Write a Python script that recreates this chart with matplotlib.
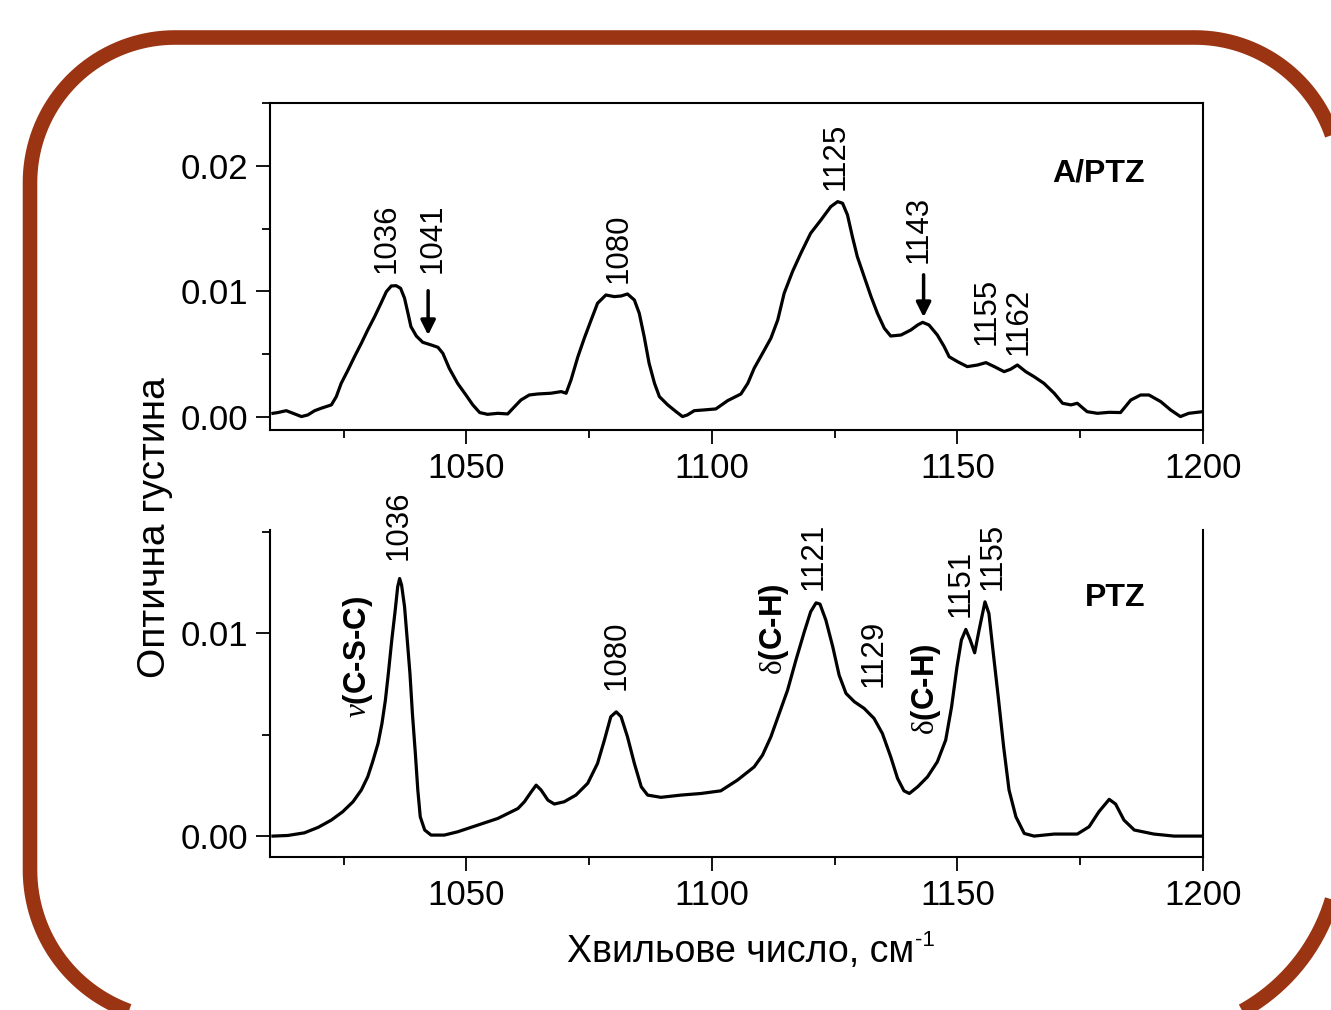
import numpy as np
import matplotlib
matplotlib.use('Agg')
import matplotlib.pyplot as plt
from matplotlib.patches import Polygon
from matplotlib.ticker import MultipleLocator, FormatStrFormatter

plt.rcParams['font.family'] = 'Liberation Sans'
plt.rcParams['mathtext.fontset'] = 'custom'
plt.rcParams['mathtext.rm'] = 'Liberation Sans'
plt.rcParams['mathtext.sf'] = 'Liberation Serif'
plt.rcParams['mathtext.it'] = 'Liberation Serif:italic'
plt.rcParams['mathtext.bf'] = 'Liberation Sans:bold'

# A/PTZ spectrum (top panel)
wn_top = [1010.6, 1011.6, 1013.3, 1014.7, 1016.4, 1017.7, 1019.1, 1020.4, 1022.5, 1023.5,
          1024.5, 1025.9, 1027.2, 1028.6, 1029.9, 1031.3, 1032.6, 1033.7, 1034.7, 1035.7,
          1036.6, 1037.4, 1038.1, 1038.7, 1039.8, 1041.1, 1042.8, 1044.2, 1045.2, 1046.5,
          1048.2, 1049.9, 1051.3, 1052.7, 1054.3, 1056.4, 1058.4, 1059.8, 1061.1, 1062.8,
          1064.5, 1067.2, 1069.3, 1070.3, 1071.3, 1072.7, 1074.0, 1075.4, 1076.7, 1078.4,
          1080.1, 1081.5, 1082.8, 1084.2, 1085.2, 1086.2, 1087.2, 1088.3, 1089.3, 1091.0,
          1092.7, 1094.0, 1095.0, 1096.4, 1098.4, 1100.8, 1103.2, 1105.9, 1107.3, 1108.6,
          1110.3, 1112.0, 1113.4, 1114.7, 1116.4, 1118.1, 1120.1, 1122.2, 1124.2, 1125.6,
          1126.6, 1127.6, 1128.6, 1129.6, 1131.0, 1132.4, 1133.7, 1135.1, 1136.4, 1138.5,
          1140.5, 1141.9, 1142.9, 1144.2, 1145.9, 1147.3, 1148.3, 1150.0, 1152.0, 1154.1,
          1155.8, 1157.5, 1159.5, 1160.8, 1162.2, 1163.9, 1165.6, 1167.6, 1169.7, 1171.4,
          1173.1, 1174.4, 1176.4, 1178.5, 1180.9, 1183.2, 1185.3, 1187.3, 1189.0, 1191.4,
          1193.4, 1195.4, 1197.1, 1199.9]
od_top = [0.00029, 0.00035, 0.0005, 0.00029, 0.00003, 0.00016, 0.0005, 0.00069, 0.00096, 0.00162,
          0.00268, 0.00375, 0.0048, 0.00587, 0.00693, 0.00799, 0.00906, 0.00999, 0.01044, 0.01046,
          0.01025, 0.00946, 0.00826, 0.0072, 0.00645, 0.00595, 0.00574, 0.00555, 0.00507, 0.00388,
          0.00268, 0.00175, 0.00096, 0.00035, 0.00021, 0.00029, 0.00024, 0.00082, 0.00135, 0.00175,
          0.00183, 0.00189, 0.00202, 0.00189, 0.00295, 0.0048, 0.00627, 0.00773, 0.00906, 0.00972,
          0.00959, 0.00964, 0.0098, 0.00932, 0.00826, 0.0064, 0.00428, 0.00268, 0.00162, 0.00096,
          0.00042, 0.00003, 0.00016, 0.0005, 0.00056, 0.00064, 0.0013, 0.00183, 0.00268, 0.00388,
          0.00507, 0.00627, 0.00773, 0.00985, 0.01158, 0.01304, 0.01464, 0.0157, 0.01676, 0.01716,
          0.01703, 0.0161, 0.01437, 0.01278, 0.01118, 0.00959, 0.00826, 0.00707, 0.00645, 0.00653,
          0.00693, 0.00733, 0.00754, 0.00733, 0.00653, 0.0056, 0.0048, 0.00441, 0.00401, 0.00414,
          0.00433, 0.00401, 0.00361, 0.0038, 0.00414, 0.00361, 0.00321, 0.00268, 0.00189, 0.00109,
          0.00096, 0.00109, 0.00042, 0.00029, 0.00037, 0.00035, 0.00135, 0.00175, 0.00175, 0.00122,
          0.00056, 0.00003, 0.00029, 0.00042]

# PTZ spectrum (bottom panel)
wn_bot = [1010.6, 1013.6, 1017.0, 1019.8, 1022.5, 1024.8, 1026.9, 1028.6, 1029.9, 1030.9,
          1032.0, 1032.8, 1033.5, 1034.1, 1034.8, 1035.5, 1036.0, 1036.4, 1036.8, 1037.4,
          1037.9, 1038.5, 1039.0, 1039.6, 1040.1, 1040.6, 1041.5, 1042.8, 1045.5, 1048.2,
          1052.3, 1056.4, 1060.5, 1061.8, 1063.2, 1064.2, 1065.2, 1066.6, 1067.9, 1069.9,
          1072.3, 1074.7, 1076.7, 1078.1, 1079.4, 1080.5, 1081.5, 1082.8, 1084.2, 1085.6,
          1086.9, 1089.6, 1093.7, 1097.8, 1101.8, 1105.2, 1108.6, 1110.3, 1112.0, 1113.7,
          1115.4, 1117.1, 1118.8, 1120.1, 1121.2, 1122.0, 1123.2, 1124.6, 1125.9, 1127.3,
          1129.0, 1131.0, 1133.0, 1134.7, 1136.4, 1137.8, 1139.1, 1140.2, 1141.9, 1143.9,
          1145.9, 1147.6, 1148.8, 1149.9, 1150.8, 1151.7, 1152.6, 1153.5, 1154.4, 1155.6,
          1156.4, 1157.3, 1158.3, 1159.4, 1160.5, 1161.9, 1163.6, 1165.6, 1169.7, 1174.4,
          1176.8, 1178.8, 1180.9, 1182.2, 1183.9, 1186.0, 1190.0, 1194.1, 1199.9]
od_bot = [0.0, 0.00003, 0.00016, 0.00043, 0.00079, 0.0012, 0.00169, 0.00227, 0.00292, 0.00366,
          0.00456, 0.00555, 0.0067, 0.00801, 0.00966, 0.01113, 0.01228, 0.01269, 0.01236, 0.0113,
          0.00982, 0.00801, 0.00604, 0.00407, 0.00227, 0.00095, 0.0003, 0.00005, 0.00005, 0.00021,
          0.00054, 0.00087, 0.00136, 0.00169, 0.00218, 0.00251, 0.00227, 0.00177, 0.00158, 0.00169,
          0.00202, 0.0026, 0.00358, 0.00473, 0.00588, 0.00612, 0.00588, 0.00489, 0.00358, 0.00243,
          0.00202, 0.00191, 0.00202, 0.0021, 0.00223, 0.00276, 0.00341, 0.00399, 0.00489, 0.00604,
          0.00719, 0.00867, 0.01006, 0.01105, 0.01149, 0.01143, 0.01064, 0.00933, 0.00793, 0.00703,
          0.00662, 0.00629, 0.0058, 0.00506, 0.00391, 0.00284, 0.00223, 0.0021, 0.00243, 0.00292,
          0.00366, 0.00473, 0.00637, 0.00834, 0.00966, 0.01018, 0.00966, 0.00903, 0.01015, 0.01154,
          0.01097, 0.009, 0.00686, 0.0044, 0.00227, 0.00095, 0.00013, 0.0, 0.0001, 0.0001,
          0.00046, 0.0012, 0.00181, 0.00158, 0.00079, 0.0003, 0.0001, 0.0, 0.0]

# peak labels (text, x, y of label foot)
top_labels = ['1036', '1041', '1080', '1125', '1143', '1155', '1162']
top_label_x = [1033.7, 1043.2, 1080.9, 1125.2, 1142.1, 1156.0, 1162.5]
top_label_y = [0.01147, 0.01147, 0.01068, 0.01809, 0.01227, 0.00574, 0.00494]

bot_labels = ['1036', r'$\nu$(C-S-C)', '1080', r'$\mathsf{\delta}$(C-H)', '1121', '1129',
              r'$\mathsf{\delta}$(C-H)', '1151', '1155']
bot_label_x = [1036.1, 1028.0, 1080.5, 1112.6, 1120.8, 1133.0, 1143.5, 1150.7, 1157.2]
bot_label_y = [0.0136, 0.00581, 0.00719, 0.00793, 0.01212, 0.00734, 0.00498, 0.01079, 0.01212]
bot_label_bold = [False, True, False, True, False, False, True, False, False]

# arrows in the top panel (x, start y, end y)
arrow_x = [1042.2, 1143.1]
arrow_y0 = [0.01028, 0.01155]
arrow_y1 = [0.0063, 0.00773]

fig = plt.figure(figsize=(13.31, 10.10), dpi=100)

# rounded brown frame behind everything, in pixel units (y up)
# each corner: centre x, centre y, radius, start angle
bg = fig.add_axes([0, 0, 1, 1], zorder=-1)
bg.set_xlim(0, 1331)
bg.set_ylim(0, 1010)
bg.axis('off')
corners = [(1195, 827.5, 145, 0), (175, 827.5, 145, 90),
           (180, 140, 150, 180), (1150, 165, 190, 270)]
pts = []
for cx, cy, r, a0 in corners:
    a = np.radians(np.linspace(a0, a0 + 90, 40))
    pts += list(zip(cx + r * np.cos(a), cy + r * np.sin(a)))
bg.add_patch(Polygon(pts, closed=True, fill=False, edgecolor='#9a3412',
                     linewidth=10.5, clip_on=False))

ax1 = fig.add_axes([270 / 1331, 1 - 430 / 1010, 933 / 1331, 327 / 1010])
ax2 = fig.add_axes([270 / 1331, 1 - 857 / 1010, 933 / 1331, 327 / 1010])

ax1.plot(wn_top, od_top, color='black', lw=2.3, solid_joinstyle='round')
ax2.plot(wn_bot, od_bot, color='black', lw=2.3, solid_joinstyle='round')

ax1.set_ylim(-0.00104, 0.02502)
ax2.set_ylim(-0.00103, 0.01508)

for ax in (ax1, ax2):
    ax.set_xlim(1010, 1200)
    ax.xaxis.set_major_locator(MultipleLocator(50))
    ax.xaxis.set_minor_locator(MultipleLocator(25))
    ax.yaxis.set_major_locator(MultipleLocator(0.01))
    ax.yaxis.set_minor_locator(MultipleLocator(0.005))
    ax.yaxis.set_major_formatter(FormatStrFormatter('%.2f'))
    ax.tick_params(which='major', direction='out', length=10, width=1.3, labelsize=25, pad=6)
    ax.tick_params(which='minor', direction='out', length=6, width=1.3)
    ax.tick_params(top=False, right=False)
    for s in ax.spines.values():
        s.set_linewidth(1.5)

ax2.spines['top'].set_visible(False)

# labels of peaks
for t, x, y in zip(top_labels, top_label_x, top_label_y):
    ax1.text(x, y, t, rotation=90, ha='center', va='bottom', fontsize=22.5)
for t, x, y, b in zip(bot_labels, bot_label_x, bot_label_y, bot_label_bold):
    ax2.text(x, y, t, rotation=90, ha='center', va='bottom', fontsize=22.5,
             fontweight='bold' if b else 'normal')

for x, y0, y1 in zip(arrow_x, arrow_y0, arrow_y1):
    ax1.annotate('', xy=(x, y1), xytext=(x, y0),
                 arrowprops=dict(arrowstyle='-|>', color='black', lw=2.5, mutation_scale=22))

ax1.text(1178.8, 0.01944, 'A/PTZ', ha='center', va='center', fontsize=23, fontweight='bold')
ax2.text(1182.2, 0.01172, 'PTZ', ha='center', va='center', fontsize=23, fontweight='bold')

fig.text(155 / 1331, 1 - 528 / 1010, 'Оптична густина', rotation=90, ha='center', va='center', fontsize=28)

# x label with the small raised "-1"
xl = fig.text(567 / 1331, 1 - 962 / 1010, 'Хвильове число, см', ha='left', va='baseline', fontsize=27)
fig.canvas.draw()
bb = xl.get_window_extent()
fig.text((bb.x1 + 1) / 1331, 1 - 946 / 1010, '-1', ha='left', va='baseline', fontsize=16)

fig.savefig('out.png', dpi=100)
